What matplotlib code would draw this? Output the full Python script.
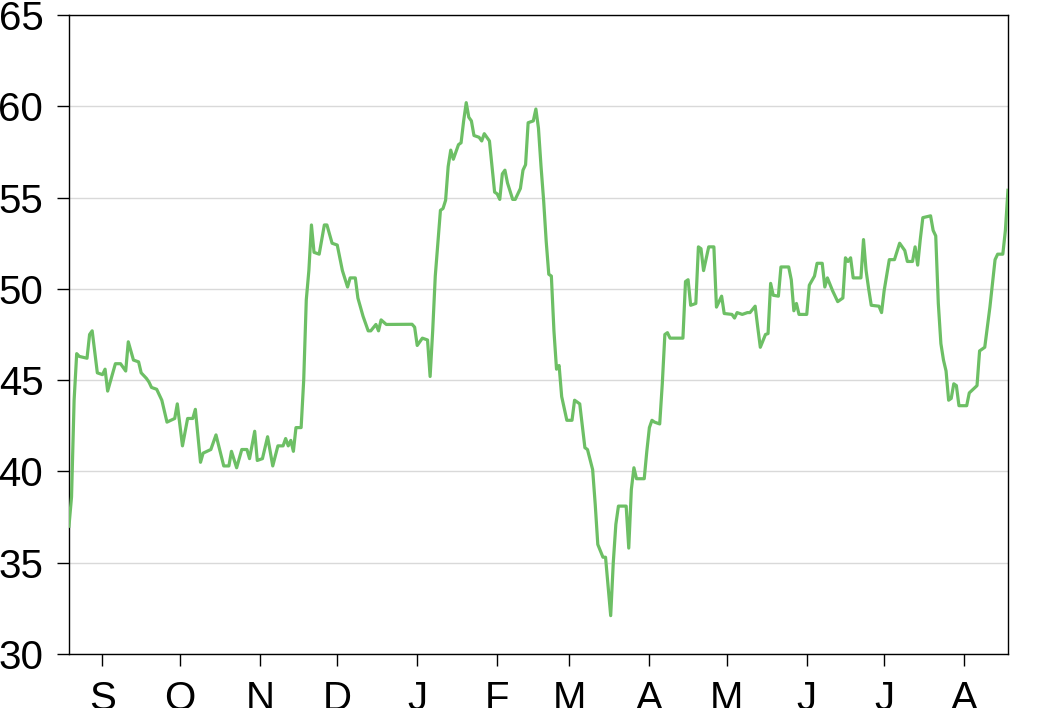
import datetime as dt
import matplotlib
matplotlib.use('Agg')
import matplotlib.pyplot as plt
import matplotlib.dates as mdates
from matplotlib.ticker import FuncFormatter

# series: days since start date, value
start = dt.date(2021, 8, 19)
end = dt.date(2022, 8, 18)
day_offset = [0, 1, 2, 3, 4, 7, 8, 9, 11, 13, 14, 15, 18, 20, 22, 23, 25, 27, 28, 30,
              31, 32, 34, 36, 38, 41, 42, 44, 46, 48, 49, 51, 52, 55, 57, 60, 62, 63, 65, 67,
              69, 70, 72, 73, 75, 77, 79, 81, 83, 84, 85, 86, 87, 88, 90, 91, 92, 93, 94, 95,
              97, 99, 100, 102, 104, 106, 108, 109, 111, 112, 114, 116, 117, 119, 120, 121, 123, 133, 134, 135,
              137, 139, 140, 141, 142, 144, 145, 146, 147, 148, 149, 151, 152, 153, 154, 155, 156, 157, 159, 160,
              161, 163, 165, 166, 167, 168, 169, 170, 172, 173, 175, 176, 177, 178, 180, 181, 182, 183, 184, 185,
              186, 187, 188, 189, 190, 191, 193, 195, 196, 198, 200, 201, 203, 204, 205, 207, 208, 210, 211, 212,
              213, 216, 217, 218, 219, 220, 223, 224, 225, 226, 227, 229, 230, 231, 232, 233, 238, 239, 240, 241,
              243, 244, 245, 246, 248, 250, 251, 253, 254, 257, 258, 259, 261, 263, 264, 266, 267, 268, 270, 271,
              272, 273, 275, 276, 279, 280, 281, 282, 283, 286, 287, 289, 290, 292, 293, 294, 296, 298, 300, 301,
              302, 303, 304, 307, 308, 309, 310, 311, 314, 315, 316, 318, 320, 322, 324, 325, 327, 328, 329, 330,
              331, 334, 335, 336, 337, 338, 339, 340, 341, 342, 343, 344, 345, 348, 349, 352, 353, 355, 357, 359,
              360, 362, 363, 364]
values = [37.0, 38.6, 43.9, 46.45, 46.3, 46.2, 47.5, 47.7, 45.4, 45.3, 45.6, 44.4, 45.9, 45.9, 45.5, 47.1, 46.1, 46.0, 45.4, 45.1,
          44.9, 44.6, 44.5, 43.9, 42.7, 42.9, 43.7, 41.4, 42.9, 42.9, 43.4, 40.5, 41.0, 41.2, 42.0, 40.3, 40.3, 41.1, 40.2, 41.2,
          41.2, 40.7, 42.2, 40.6, 40.7, 41.9, 40.3, 41.4, 41.4, 41.8, 41.4, 41.7, 41.1, 42.4, 42.4, 45.0, 49.4, 51.0, 53.5, 52.0,
          51.9, 53.5, 53.5, 52.5, 52.4, 51.0, 50.1, 50.6, 50.6, 49.5, 48.5, 47.7, 47.7, 48.05, 47.7, 48.3, 48.05, 48.06, 47.9, 46.9,
          47.3, 47.2, 45.2, 47.7, 50.7, 54.3, 54.4, 54.85, 56.7, 57.6, 57.1, 57.9, 58.0, 59.2, 60.2, 59.4, 59.2, 58.4, 58.3, 58.1,
          58.5, 58.1, 55.3, 55.2, 54.9, 56.3, 56.5, 55.8, 54.9, 54.9, 55.5, 56.5, 56.8, 59.1, 59.2, 59.85, 58.8, 56.7, 54.85, 52.6,
          50.8, 50.7, 47.7, 45.6, 45.8, 44.1, 42.8, 42.8, 43.9, 43.7, 41.3, 41.2, 40.1, 38.2, 36.0, 35.3, 35.3, 32.1, 35.0, 37.1,
          38.1, 38.1, 35.8, 39.0, 40.2, 39.6, 39.6, 41.1, 42.4, 42.8, 42.7, 42.6, 44.8, 47.5, 47.6, 47.3, 47.3, 50.4, 50.5, 49.1,
          49.2, 52.3, 52.2, 51.0, 52.3, 52.3, 49.0, 49.6, 48.65, 48.6, 48.4, 48.7, 48.6, 48.7, 48.7, 49.05, 47.9, 46.8, 47.5, 47.55,
          50.3, 49.65, 49.6, 51.2, 51.2, 50.5, 48.8, 49.2, 48.6, 48.6, 50.2, 50.7, 51.4, 51.4, 50.1, 50.6, 49.9, 49.3, 49.5, 51.7,
          51.5, 51.7, 50.6, 50.6, 52.7, 51.0, 50.0, 49.1, 49.05, 48.7, 49.9, 51.6, 51.6, 52.5, 52.1, 51.5, 51.5, 52.3, 51.3, 52.7,
          53.9, 54.0, 53.2, 52.9, 49.2, 47.0, 46.1, 45.5, 43.9, 44.0, 44.8, 44.7, 43.6, 43.6, 44.3, 44.7, 46.6, 46.8, 49.0, 51.6,
          51.9, 51.9, 53.2, 55.4]
y_ticks = [30, 35, 40, 45, 50, 55, 60, 65]

dates = [start + dt.timedelta(days=d) for d in day_offset]

plt.rcParams['font.family'] = ['Liberation Sans', 'DejaVu Sans']
fig = plt.figure(figsize=(10.4, 7.08), dpi=100)
ax = fig.add_axes([0.0663, 0.0763, 0.9029, 0.9025])

ax.plot(dates, values, color='#6dbf65', linewidth=2.3, zorder=3,
        solid_joinstyle='round')

ax.set_ylim(30, 65)
ax.set_yticks(y_ticks)
ax.set_xlim(start, end)
ax.xaxis.set_major_locator(mdates.MonthLocator())
ax.xaxis.set_major_formatter(FuncFormatter(lambda x, pos: mdates.num2date(x).strftime('%b')[0]))

ax.grid(axis='y', color='#d9d9d9', linewidth=1.0, zorder=0)
for s in ax.spines.values():
    s.set_linewidth(1.0)
    s.set_color('black')
ax.tick_params(axis='both', length=8.5, width=1.0, pad=10, labelsize=29, colors='black')

fig.savefig('out.png', dpi=100)
